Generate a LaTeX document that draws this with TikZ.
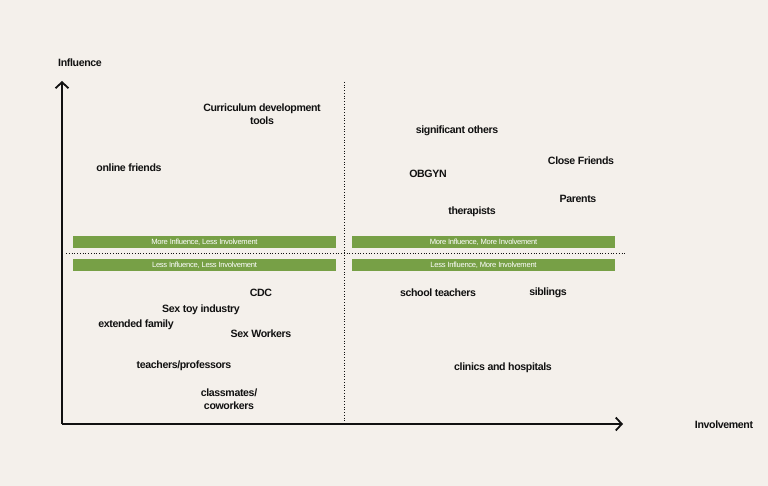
\documentclass[tikz,border=0pt]{standalone}
\usepackage{fontspec}
\setmainfont{Liberation Sans}
\newfontfamily\lblfont[LetterSpace=-3.5]{Liberation Sans}
\usetikzlibrary{arrows.meta}
\definecolor{bg}{HTML}{F4F0EB}
\definecolor{bar}{HTML}{77A046}
\definecolor{ink}{HTML}{111111}
\begin{document}
\begin{tikzpicture}[x=1pt,y=-1pt,
  lbl/.style={font=\lblfont\bfseries\fontsize{10.6}{12.6}\selectfont, text=ink, align=center, inner sep=0pt, yshift=-1pt},
  barbox/.style={fill=bar, minimum width=263pt, minimum height=12pt, inner sep=0pt, text=white, font=\lblfont\fontsize{7.6}{8}\selectfont},
  axis/.style={line width=1.8pt, ink, -{Straight Barb[length=6pt,width=13pt,line width=1.8pt]}},
  divider/.style={line width=0.75pt, ink, dotted}]
\fill[bg] (0,0) rectangle (768,486);
\useasboundingbox (0,0) rectangle (768,486);
\coordinate (O) at (62,424);
\coordinate (Ytop) at (62,81);
\coordinate (Xend) at (623,424);
\coordinate (Vt) at (344,82);
\coordinate (Vb) at (344,424);
\coordinate (Hl) at (66,253);
\coordinate (Hr) at (626,253);
\draw[divider] (Vt) -- (Vb);
\draw[divider] (Hl) -- (Hr);
\draw[axis] (O) -- (Ytop);
\draw[axis] (O) -- (Xend);
\node[barbox] (b1) at (204.5,242) {More Influence, Less Involvement};
\node[barbox] (b2) at (483.5,242) {More Influence, More Involvement};
\node[barbox] (b3) at (204.5,265) {Less Influence, Less Involvement};
\node[barbox] (b4) at (483.5,265) {Less Influence, More Involvement};
\node[lbl] (infl) at (80,62) {Influence};
\node[lbl] (invo) at (724,424) {Involvement};
\node[lbl] (cur) at (262,113) {Curriculum development\\tools};
\node[lbl] (onl) at (129,167) {online friends};
\node[lbl] (sig) at (457,130) {significant others};
\node[lbl] (cf) at (581,160) {Close Friends};
\node[lbl] (ob) at (428,173) {OBGYN};
\node[lbl] (par) at (578,198) {Parents};
\node[lbl] (ther) at (472,211) {therapists};
\node[lbl] (cdc) at (261,292) {CDC};
\node[lbl] (sti) at (201,309) {Sex toy industry};
\node[lbl] (ef) at (136,324) {extended family};
\node[lbl] (sw) at (261,333) {Sex Workers};
\node[lbl] (tp) at (184,365) {teachers/professors};
\node[lbl] (cc) at (229,398) {classmates/\\coworkers};
\node[lbl] (st) at (438,292) {school teachers};
\node[lbl] (sib) at (548,292) {siblings};
\node[lbl] (ch) at (503,367) {clinics and hospitals};
\end{tikzpicture}
\end{document}
